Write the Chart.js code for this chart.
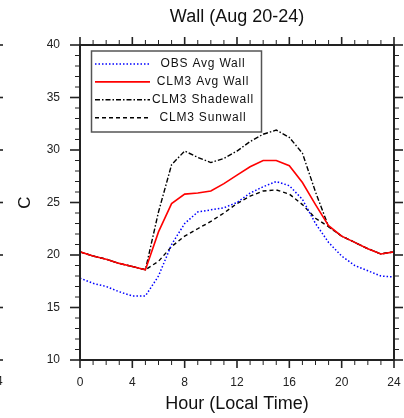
<!DOCTYPE html>
<html>
<head>
<meta charset="utf-8">
<script src="https://cdn.jsdelivr.net/npm/chart.js@4/dist/chart.umd.min.js"></script>
<style>
    html, body { margin: 0; padding: 0; background: #fff; }
    #wallChart { display: block; }
</style>
</head>
<body>
<canvas id="wallChart" width="404" height="418"></canvas>
<script>
const hours = [0, 1, 2, 3, 4, 5, 6, 7, 8, 9, 10, 11, 12, 13, 14, 15, 16, 17, 18, 19, 20, 21, 22, 23, 24];

const obsAvgWall = [17.8, 17.3, 17.0, 16.5, 16.1, 16.1, 18.0, 21.0, 23.0, 24.1, 24.3, 24.5, 25.0, 25.9, 26.5, 27.0, 26.6, 25.3, 23.0, 21.2, 19.9, 19.0, 18.5, 18.0, 17.9];
const clmAvgWall = [20.3, 19.9, 19.6, 19.2, 18.9, 18.6, 22.2, 24.9, 25.8, 25.9, 26.1, 26.8, 27.6, 28.4, 29.0, 29.0, 28.5, 26.9, 24.8, 22.8, 21.8, 21.2, 20.6, 20.1, 20.3];
const clmShadewall = [20.3, 19.9, 19.6, 19.2, 18.9, 18.6, 24.1, 28.6, 29.9, 29.3, 28.8, 29.2, 29.9, 30.8, 31.5, 31.9, 31.2, 29.7, 26.0, 22.7, 21.8, 21.2, 20.6, 20.1, 20.3];
const clmSunwall = [20.3, 19.9, 19.6, 19.2, 18.9, 18.6, 19.4, 20.8, 21.8, 22.5, 23.2, 24.0, 24.9, 25.6, 26.1, 26.2, 25.8, 24.8, 23.5, 22.7, 21.8, 21.2, 20.6, 20.1, 20.3];

const seriesNames = ["OBS Avg Wall", "CLM3 Avg Wall", "CLM3 Shadewall", "CLM3 Sunwall"];
const xTicks = [0, 4, 8, 12, 16, 20, 24];
const yTicks = [10, 15, 20, 25, 30, 35, 40];

const FONT = "'Liberation Sans', Arial, sans-serif";
const INK = "#222";

const toPoints = (vals) => vals.map((v, i) => ({ x: hours[i], y: v }));

// frame with ticks on all four sides, title and the boxed legend
const framePlugin = {
    id: "frameTicks",
    afterDraw(chart) {
        const { ctx, chartArea: a, scales } = chart;
        const xs = scales.x, ys = scales.y;
        ctx.save();

        ctx.strokeStyle = INK;
        ctx.lineWidth = 2;
        ctx.strokeRect(a.left, a.top, a.right - a.left, a.bottom - a.top);

        const tick = (x1, y1, x2, y2, w) => {
            ctx.lineWidth = w;
            ctx.beginPath();
            ctx.moveTo(x1, y1);
            ctx.lineTo(x2, y2);
            ctx.stroke();
        };

        for (let h = 0; h <= 24; h++) {
            const px = xs.getPixelForValue(h);
            const major = h % 4 === 0;
            const len = major ? 8 : 5;
            const w = major ? 1.6 : 1;
            tick(px, a.bottom, px, a.bottom + len, w);
            tick(px, a.top, px, a.top - len, w);
        }
        for (let v = 10; v <= 40; v++) {
            const py = ys.getPixelForValue(v);
            const major = v % 5 === 0;
            tick(a.left, py, a.left - (major ? 10 : 5), py, major ? 1.6 : 1);
            tick(a.right, py, a.right + (major ? 9 : 5), py, major ? 1.6 : 1);
            // edge of the adjacent panel
            if (major) tick(0, py, 3, py, 1.6);
        }

        ctx.fillStyle = INK;
        ctx.font = "12px " + FONT;
        ctx.textAlign = "center";
        ctx.textBaseline = "middle";
        ctx.fillText("24", -4, 382);

        // title
        ctx.fillStyle = "#111";
        ctx.font = "18px " + FONT;
        ctx.fillText("Wall (Aug 20-24)", (a.left + a.right) / 2, 17);

        // legend
        const box = { x: 91.5, y: 51, w: 170, h: 81 };
        ctx.fillStyle = "#fff";
        ctx.fillRect(box.x, box.y, box.w, box.h);
        ctx.strokeStyle = "#555";
        ctx.lineWidth = 1.5;
        ctx.strokeRect(box.x, box.y, box.w, box.h);

        ctx.font = "12px " + FONT;
        ctx.letterSpacing = "0.8px";
        chart.data.datasets.forEach((ds, i) => {
            const ry = 64 + i * 17.9;
            ctx.strokeStyle = ds.borderColor;
            ctx.lineWidth = ds.borderWidth;
            ctx.setLineDash(ds.borderDash || []);
            ctx.beginPath();
            ctx.moveTo(95, ry);
            ctx.lineTo(150, ry);
            ctx.stroke();
            ctx.setLineDash([]);
            ctx.fillStyle = "#111";
            ctx.fillText(ds.label, 203, ry);
        });

        ctx.restore();
    }
};

const ctx = document.getElementById("wallChart").getContext("2d");
new Chart(ctx, {
    type: "line",
    data: {
        datasets: [
            { label: seriesNames[0], data: toPoints(obsAvgWall), borderColor: "#0000ff", borderWidth: 1.5, borderDash: [1.5, 2] },
            { label: seriesNames[1], data: toPoints(clmAvgWall), borderColor: "#ff0000", borderWidth: 1.6 },
            { label: seriesNames[2], data: toPoints(clmShadewall), borderColor: "#000", borderWidth: 1.4, borderDash: [5, 2, 1.5, 2] },
            { label: seriesNames[3], data: toPoints(clmSunwall), borderColor: "#000", borderWidth: 1.4, borderDash: [4, 3] }
        ]
    },
    options: {
        responsive: false,
        animation: false,
        layout: { padding: { top: 45, right: 10, left: 0, bottom: 0 } },
        elements: { point: { radius: 0 }, line: { tension: 0, fill: false } },
        plugins: { legend: { display: false }, tooltip: { enabled: false } },
        scales: {
            x: {
                type: "linear",
                min: 0,
                max: 24,
                afterBuildTicks: (s) => { s.ticks = xTicks.map(v => ({ value: v })); },
                afterFit: (s) => { s.height = 58; s.paddingLeft = 0; s.paddingRight = 0; },
                ticks: { color: INK, padding: 7, maxRotation: 0, font: { family: FONT, size: 12 } },
                grid: { drawOnChartArea: false, tickLength: 8, tickColor: "rgba(0,0,0,0)" },
                border: { display: false },
                title: { display: true, text: "Hour (Local Time)", color: "#111", padding: { top: 0, bottom: 3 }, font: { family: FONT, size: 18 } }
            },
            y: {
                min: 10,
                max: 40,
                afterBuildTicks: (s) => { s.ticks = yTicks.map(v => ({ value: v })); },
                afterFit: (s) => { s.width = 80; s.paddingTop = 0; s.paddingBottom = 0; },
                ticks: { color: INK, padding: 10, font: { family: FONT, size: 12 } },
                grid: { drawOnChartArea: false, tickLength: 10, tickColor: "rgba(0,0,0,0)" },
                border: { display: false },
                title: { display: true, text: "C", color: "#111", padding: { top: 15.5, bottom: 0 }, font: { family: FONT, size: 17 } }
            }
        }
    },
    plugins: [framePlugin]
});
</script>
</body>
</html>
